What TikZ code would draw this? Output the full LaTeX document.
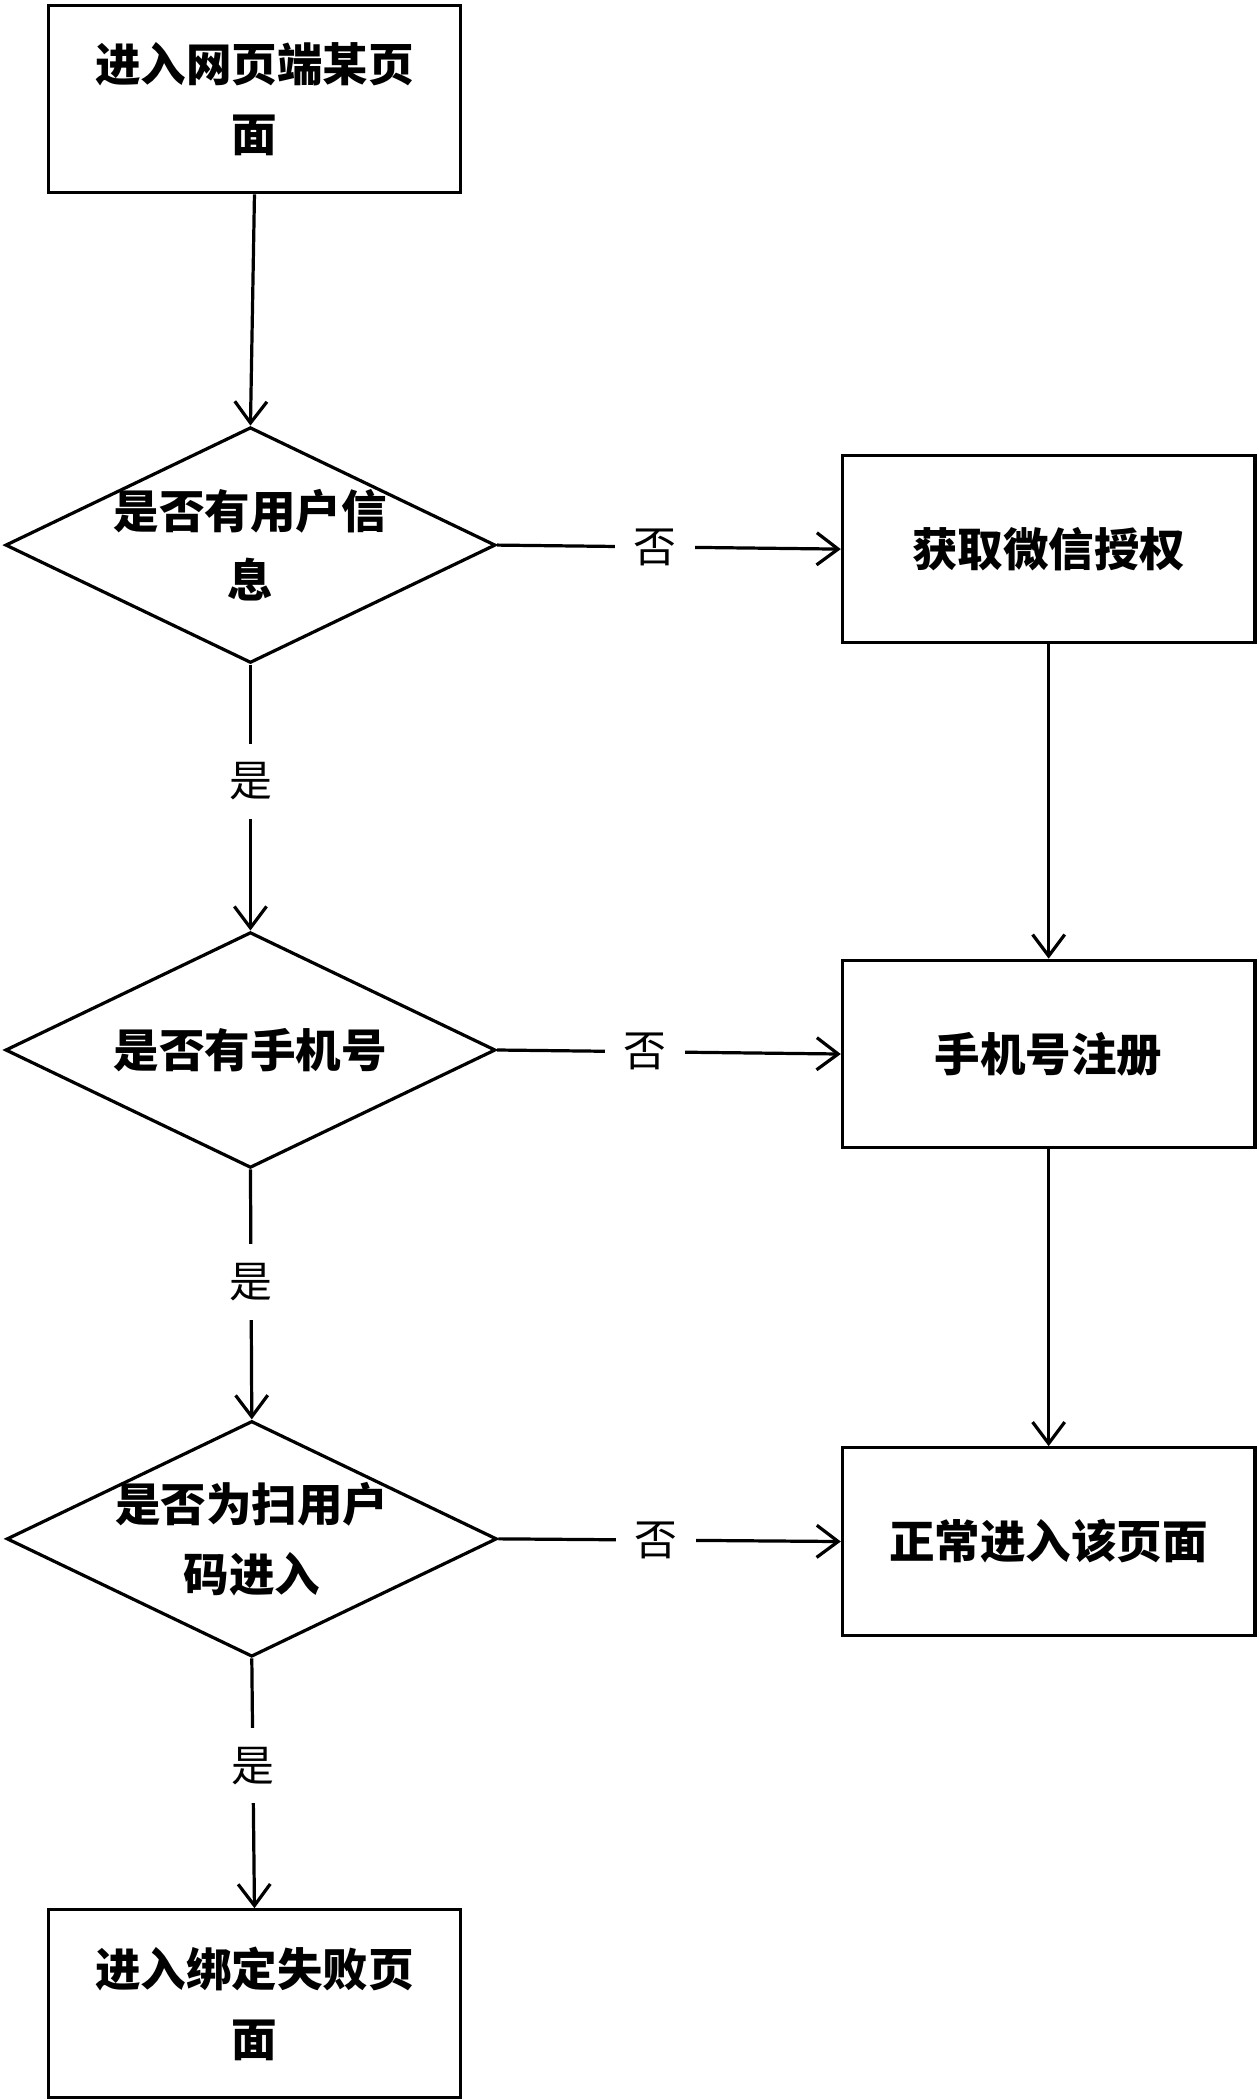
\documentclass[tikz,border=0pt]{standalone}
\usepackage{fontspec}
\newfontfamily\cjk{Noto Sans CJK SC}
\usetikzlibrary{shapes.geometric,arrows.meta}
\begin{document}
\begin{tikzpicture}[x=1pt,y=-1pt,
  every node/.style={font=\cjk},
  box/.style={draw,line width=2.4pt,minimum width=308pt,minimum height=140pt,inner sep=0,font=\cjk\bfseries\fontsize{34}{52}\selectfont,align=center},
  dia/.style={draw,diamond,line width=2.4pt,minimum width=366pt,minimum height=176pt,inner sep=0},
  txt/.style={font=\cjk\bfseries\fontsize{34}{52}\selectfont,align=center},
  lab/.style={fill=white,inner xsep=14pt,inner ysep=4pt,font=\cjk\fontsize{32}{36}\selectfont},
  arr/.style={line width=2.4pt,-{Straight Barb[length=16pt,width=24pt,line width=2.4pt]}}]
\useasboundingbox (0,0) rectangle (940,1568);
\node[box] (a) at (190,74) {进入网页端某页\\面};
\node[dia] (d1) at (187,407) {};
\node[txt] at (d1) {是否有用户信\\息};
\node[box] (b) at (783,410) {获取微信授权};
\node[dia] (d2) at (187,784) {};
\node[txt] at (d2) {是否有手机号};
\node[box] (c) at (783,787) {手机号注册};
\node[dia] (d3) at (188,1149) {};
\node[txt] at (d3) {是否为扫用户\\码进入};
\node[box] (e) at (783,1151) {正常进入该页面};
\node[box] (f) at (190,1496) {进入绑定失败页\\面};
\draw[arr] (a.south) -- (d1.north);
\draw[arr] (d1.east) -- node[lab,pos=0.46]{否} (b.west);
\draw[arr] (d1.south) -- node[lab,pos=0.44,inner ysep=14pt]{是} (d2.north);
\draw[arr] (b.south) -- (c.north);
\draw[arr] (d2.east) -- node[lab,pos=0.43]{否} (c.west);
\draw[arr] (c.south) -- (e.north);
\draw[arr] (d2.south) -- node[lab,pos=0.45,inner ysep=14pt]{是} (d3.north);
\draw[arr] (d3.east) -- node[lab,pos=0.46]{否} (e.west);
\draw[arr] (d3.south) -- node[lab,pos=0.43,inner ysep=14pt]{是} (f.north);
\end{tikzpicture}
\end{document}
